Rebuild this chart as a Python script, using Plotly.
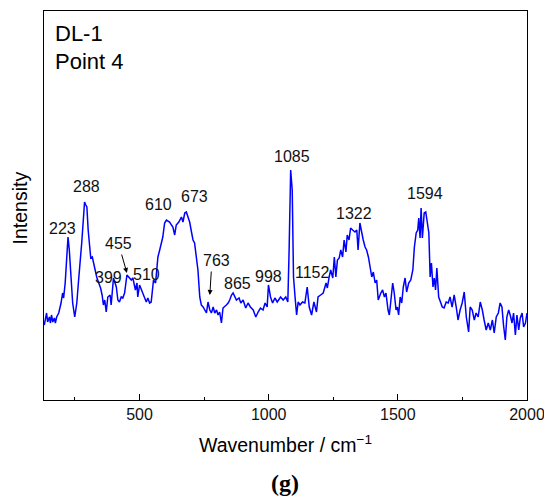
import plotly.graph_objects as go

wavenumber = [131, 140, 144, 151, 155, 159, 164, 170, 174, 179, 187, 196, 202, 206, 212, 218, 223, 228, 235, 241,
              249, 257, 264, 270, 276, 283, 287, 292, 296, 301, 306, 311, 317, 322, 327, 334, 342, 349, 355, 360,
              365, 371, 377, 386, 390, 399, 410, 416, 422, 429, 435, 442, 451, 458, 468, 474, 484, 490, 493, 500,
              507, 513, 519, 526, 532, 539, 545, 554, 562, 571, 578, 590, 597, 604, 616, 623, 629, 636, 642, 652,
              662, 668, 675, 681, 687, 694, 701, 707, 713, 720, 726, 733, 739, 746, 752, 759, 765, 772, 778, 785,
              791, 798, 804, 810, 817, 823, 836, 843, 849, 856, 862, 869, 875, 885, 892, 901, 911, 920, 929, 940,
              950, 959, 968, 978, 986, 994, 999, 1007, 1015, 1024, 1033, 1046, 1056, 1066, 1074, 1079, 1085, 1091, 1096, 1102,
              1108, 1114, 1121, 1131, 1140, 1149, 1157, 1166, 1175, 1185, 1191, 1201, 1211, 1222, 1227, 1234, 1240, 1248, 1254, 1260,
              1266, 1273, 1279, 1286, 1292, 1299, 1304, 1311, 1317, 1325, 1334, 1341, 1346, 1353, 1360, 1366, 1373, 1379, 1386, 1392,
              1399, 1405, 1412, 1418, 1424, 1434, 1441, 1448, 1454, 1462, 1467, 1472, 1480, 1486, 1493, 1498, 1503, 1509, 1515, 1521,
              1528, 1534, 1542, 1550, 1558, 1564, 1571, 1577, 1581, 1586, 1590, 1595, 1602, 1608, 1614, 1620, 1625, 1630, 1636, 1641,
              1646, 1651, 1658, 1664, 1672, 1679, 1687, 1695, 1702, 1710, 1718, 1726, 1733, 1741, 1749, 1757, 1765, 1774, 1780, 1788,
              1796, 1803, 1811, 1819, 1827, 1834, 1842, 1850, 1858, 1866, 1873, 1881, 1889, 1896, 1903, 1909, 1916, 1922, 1929, 1935,
              1942, 1948, 1955, 1961, 1968, 1974, 1981, 1987, 1994, 2000]

intensity = [75, 87, 78, 83, 77, 85, 78, 82, 77, 83, 87, 97, 107, 102, 117, 147, 163, 150, 120, 97,
             83, 97, 120, 137, 157, 183, 198, 195, 193, 170, 153, 142, 143, 137, 130, 123, 117, 112, 105, 95,
             100, 88, 103, 105, 95, 122, 113, 100, 98, 103, 102, 107, 125, 123, 120, 122, 110, 117, 103, 115,
             110, 107, 103, 98, 102, 97, 98, 120, 117, 143, 150, 163, 177, 180, 178, 175, 173, 165, 175, 178,
             183, 178, 187, 188, 183, 178, 168, 160, 157, 143, 130, 103, 95, 93, 90, 87, 98, 90, 87, 93,
             87, 90, 85, 88, 77, 92, 95, 97, 100, 105, 107, 103, 100, 102, 97, 100, 92, 97, 93, 90,
             83, 88, 92, 90, 97, 93, 115, 103, 97, 102, 98, 103, 100, 103, 98, 150, 230, 210, 123, 103,
             85, 98, 95, 98, 97, 113, 93, 85, 98, 88, 103, 105, 107, 117, 112, 123, 130, 122, 143, 123,
             140, 142, 150, 143, 160, 148, 165, 160, 172, 170, 168, 170, 150, 177, 167, 160, 153, 150, 143, 133,
             123, 128, 117, 120, 100, 107, 110, 103, 107, 90, 85, 97, 117, 107, 90, 93, 85, 103, 97, 113,
             122, 108, 117, 120, 130, 153, 167, 170, 182, 162, 192, 162, 187, 188, 178, 167, 123, 137, 113, 122,
             110, 132, 103, 98, 93, 92, 98, 97, 103, 93, 105, 93, 80, 90, 97, 108, 83, 68, 93, 90,
             80, 87, 83, 98, 90, 80, 70, 77, 70, 80, 67, 83, 87, 97, 93, 75, 60, 83, 90, 85,
             77, 87, 65, 85, 70, 82, 87, 73, 77, 87]

peak_labels = ["223", "288", "399", "455", "510", "610", "673", "763", "865", "998", "1085", "1152", "1322", "1594"]
label_x = [201, 295, 381, 420, 526, 575, 713, 797, 879, 998, 1092, 1170, 1330, 1605]
label_y = [172, 214, 123, 157, 126, 196, 204, 140, 117, 124, 244, 128, 187, 207]

x_ticks = [500, 1000, 1500, 2000]

FONT = "Liberation Sans, Arial, sans-serif"

fig = go.Figure()
fig.add_trace(go.Scatter(x=wavenumber, y=intensity, mode="lines",
                         line=dict(color="#0000FF", width=1.5), showlegend=False))

annotations = []
for t, x, y in zip(peak_labels, label_x, label_y):
    annotations.append(dict(x=x, y=y, xref="x", yref="y", text=t, showarrow=False,
                            font=dict(family=FONT, size=16, color="#111111"),
                            xanchor="center", yanchor="middle"))

# arrows for 455 and 763
annotations.append(dict(x=451, y=127, ax=429, ay=147, xref="x", yref="y", axref="x", ayref="y",
                        text="", showarrow=True, arrowhead=2, arrowsize=1, arrowwidth=1, arrowcolor="black"))
annotations.append(dict(x=772, y=105, ax=778, ay=130, xref="x", yref="y", axref="x", ayref="y",
                        text="", showarrow=True, arrowhead=2, arrowsize=1, arrowwidth=1, arrowcolor="black"))

annotations += [
    dict(x=0.0186, y=0.943, xref="paper", yref="paper", text="DL-1", showarrow=False,
         font=dict(family=FONT, size=22, color="black"), xanchor="left", yanchor="middle"),
    dict(x=0.0186, y=0.869, xref="paper", yref="paper", text="Point 4", showarrow=False,
         font=dict(family=FONT, size=22, color="black"), xanchor="left", yanchor="middle"),
    dict(x=0.499, y=-0.113, xref="paper", yref="paper", text="Wavenumber / cm<sup>−1</sup>", showarrow=False,
         font=dict(family=FONT, size=19.5, color="black"), xanchor="center", yanchor="middle"),
    dict(x=-0.0497, y=0.495, xref="paper", yref="paper", text="Intensity", showarrow=False, textangle=-90,
         font=dict(family=FONT, size=19.5, color="black"), xanchor="center", yanchor="middle"),
    dict(x=0.499, y=-0.213, xref="paper", yref="paper", text="<b>(g)</b>", showarrow=False,
         font=dict(family="Liberation Serif, DejaVu Serif, serif", size=24, color="black"),
         xanchor="center", yanchor="middle"),
]

fig.update_layout(
    width=544, height=501,
    margin=dict(l=44, r=17, t=11, b=101),
    paper_bgcolor="white", plot_bgcolor="white",
    annotations=annotations,
    xaxis=dict(range=[130, 2000], tickvals=x_ticks, ticks="inside", ticklen=6, tickwidth=1,
               tickcolor="black", showline=True, linecolor="black", linewidth=1.3, mirror=True,
               showgrid=False, zeroline=False, automargin=False, ticklabeloverflow="allow",
               tickfont=dict(family=FONT, size=16, color="#111111"),
               minor=dict(tickvals=[250, 750, 1250, 1750], ticks="inside", ticklen=3, tickcolor="black")),
    yaxis=dict(range=[0, 389], showticklabels=False, ticks="", showline=True, linecolor="black",
               linewidth=1.3, mirror=True, showgrid=False, zeroline=False, automargin=False),
)

fig.write_html("out.html", config={"displayModeBar": False},
               post_script="document.body.style.margin='0';document.body.style.overflow='hidden';")
